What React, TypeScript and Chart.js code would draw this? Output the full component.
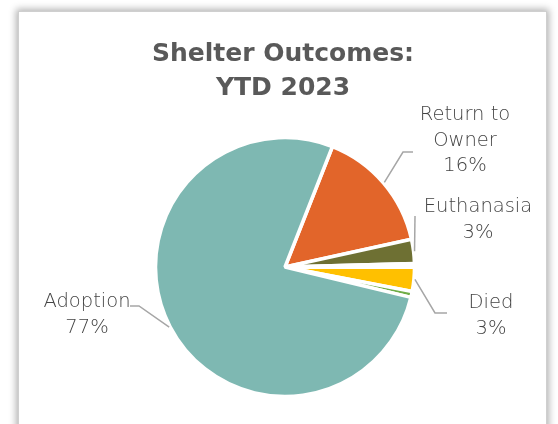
import React, { useEffect, useRef } from 'react';
import { Chart, registerables } from 'chart.js';

Chart.register(...registerables);

// ---- data ----
const CATEGORIES = ['Return to Owner', 'Euthanasia', 'Transfer', 'Died', 'Other', 'Adoption'];
const VALUES = [15.6, 3.0, 0.45, 3.0, 0.75, 77.2];
const COLORS = ['#e2652a', '#6e7033', '#ffffff', '#ffc000', '#70ad47', '#7eb8b2'];
const LABEL_LINES: (string[] | null)[] = [['Return to', 'Owner'], ['Euthanasia'], null, ['Died'], null, ['Adoption']];
const TITLE_LINES = ['Shelter Outcomes:', 'YTD 2023'];

// ---- layout (relative to pie centre) ----
const LABEL_LAYOUT: ({ x: number; y: number; leader: [number, number][] } | null)[] = [
  { x: 180, y: -147, leader: [[118, -115], [128, -115]] },
  { x: 193, y: -55, leader: [[130, -51]] },
  null,
  { x: 206, y: 41, leader: [[150, 46], [162, 46]] },
  null,
  { x: -198, y: 40, leader: [[-146, 39], [-155, 39]] },
];

const TEXT = '#595959';
const FONT = '"DejaVu Sans", sans-serif';

const labelPlugin = {
  id: 'pieLabels',
  afterDatasetsDraw(chart: any) {
    const ctx = chart.ctx as CanvasRenderingContext2D;
    const meta = chart.getDatasetMeta(0);
    const total = VALUES.reduce((a, b) => a + b, 0);
    ctx.save();
    ctx.fillStyle = TEXT;
    ctx.textAlign = 'center';
    ctx.textBaseline = 'alphabetic';
    ctx.font = `bold 25px ${FONT}`;
    TITLE_LINES.forEach((t, i) => ctx.fillText(t, 283, 61 + i * 34));

    ctx.font = `200 19.5px ${FONT}`;
    ctx.fillStyle = '#444444';
    meta.data.forEach((arc: any, i: number) => {
      const lay = LABEL_LAYOUT[i];
      const lines = LABEL_LINES[i];
      if (!lay || !lines) return;
      const p = arc.getProps(['x', 'y', 'startAngle', 'endAngle', 'outerRadius'], true);
      const mid = (p.startAngle + p.endAngle) / 2;
      const r = p.outerRadius + 1;
      ctx.strokeStyle = '#a6a6a6';
      ctx.lineWidth = 1.5;
      ctx.beginPath();
      ctx.moveTo(p.x + Math.cos(mid) * r, p.y + Math.sin(mid) * r);
      lay.leader.forEach(([lx, ly]) => ctx.lineTo(p.x + lx, p.y + ly));
      ctx.stroke();
      const all = [...lines, Math.round((VALUES[i] / total) * 100) + '%'];
      all.forEach((t, k) => ctx.fillText(t, p.x + lay.x, p.y + lay.y + k * 25.5));
    });
    ctx.restore();
  },
};

export default function App() {
  const ref = useRef<HTMLCanvasElement>(null);
  useEffect(() => {
    if (!ref.current) return;
    const R = 140;
    const cx = 285;
    const cy = 267;
    const chart = new Chart(ref.current, {
      type: 'pie',
      data: {
        labels: CATEGORIES,
        datasets: [
          {
            data: VALUES,
            backgroundColor: COLORS,
            borderColor: '#ffffff',
            borderWidth: 3.5,
            radius: 129.5,
          },
        ],
      },
      options: {
        animation: false,
        responsive: false,
        rotation: 21.5,
        layout: {
          padding: { left: cx - R, right: 558 - cx - R, top: cy - R, bottom: 424 - cy - R },
        },
        plugins: {
          legend: { display: false },
          title: { display: false },
          tooltip: { enabled: false },
        },
        events: [],
      },
      plugins: [labelPlugin],
    });
    return () => chart.destroy();
  }, []);

  return (
    <div style={{ position: 'absolute', left: 0, top: 0, width: 558, height: 424, overflow: 'hidden', background: '#fff' }}>
      <div
        style={{
          position: 'absolute',
          left: 18,
          top: 11,
          width: 527,
          height: 460,
          border: '1px solid #cfcfcf',
          boxShadow: '0 0 7px 2px rgba(0,0,0,0.3)',
          background: '#fff',
        }}
      />
      <canvas ref={ref} width={558} height={424} style={{ position: 'absolute', left: 0, top: 0, width: 558, height: 424 }} />
    </div>
  );
}
